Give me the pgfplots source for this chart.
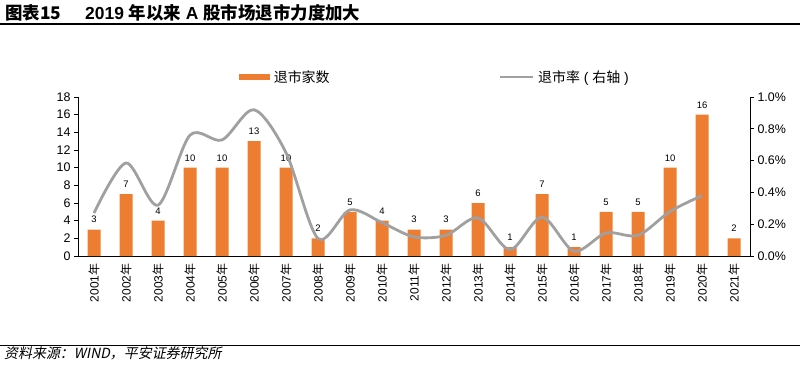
\documentclass[border=0pt]{standalone}
\usepackage{pgfplots}
\pgfplotsset{compat=1.18}
\usepackage{fontspec}
\setmainfont{Liberation Sans}
\newfontfamily\cjk{Noto Sans CJK SC}
\newfontfamily\cjkit{Noto Sans CJK SC}[FakeSlant=0.2]
\definecolor{barC}{HTML}{ED7D31}
\definecolor{lineC}{HTML}{A0A0A0}
\newcommand{\yr}[1]{#1{\cjk 年}}
\begin{document}
\begin{tikzpicture}[x=1bp,y=1bp]
\path[use as bounding box] (0,0) rectangle (800,364);
% title
\node[anchor=base west, inner sep=0] at (5,345) {\fontsize{17.5}{20}\selectfont\cjk\bfseries 图表15};
\node[anchor=base west, inner sep=0] at (85,345) {\fontsize{17.5}{20}\selectfont\bfseries 2019 {\cjk 年以来} A {\cjk 股市场退市力度加大}};
\draw[line width=1.5bp] (0,340) -- (800,340);
\draw[line width=0.8bp] (0,19) -- (800,19);
\node[anchor=base west, inner sep=0] at (4,6) {\fontsize{14}{16}\selectfont\cjkit 资料来源：\itshape WIND\cjkit ，平安证券研究所};
\begin{axis}[
  at={(78bp,108bp)}, anchor=south west,
  width=672bp, height=159bp, scale only axis,
  xmin=-0.5, xmax=20.5, ymin=0, ymax=18,
  axis x line*=bottom, axis y line*=left,
  axis line style={line width=0.8bp, -},
  xtick={0,...,20},
  xticklabels={\yr{2001},\yr{2002},\yr{2003},\yr{2004},\yr{2005},\yr{2006},\yr{2007},\yr{2008},\yr{2009},\yr{2010},\yr{2011},\yr{2012},\yr{2013},\yr{2014},\yr{2015},\yr{2016},\yr{2017},\yr{2018},\yr{2019},\yr{2020},\yr{2021}},
  x tick label style={rotate=90, anchor=east, font=\fontsize{12}{13}\selectfont},
  x tick style={draw=none},
  minor xtick={-0.5,0.5,...,20.5},
  minor tick length=5bp,
  tick align=outside,
  major tick length=4bp,
  ytick={0,2,...,18},
  y tick label style={font=\fontsize{12.5}{14}\selectfont},
  tick style={black, line width=0.8bp},
  /pgf/number format/assume math mode=true,
  legend style={at={(0.531,1.125)}, anchor=center, draw=none, fill=none,
    font=\fontsize{14}{16}\selectfont, legend columns=2,
    /tikz/every odd column/.append style={column sep=2bp},
    /tikz/every even column/.append style={column sep=168bp}},
]
\addplot[ybar, bar width=13bp, fill=barC, draw=none,
  nodes near coords, every node near coord/.append style={font=\fontsize{9.5}{11}\selectfont, black, yshift=3bp},
  legend image code/.code={\fill[barC] (-3bp,-3bp) rectangle (28bp,3bp);}]
coordinates {(0,3) (1,7) (2,4) (3,10) (4,10) (5,13) (6,10) (7,2) (8,5) (9,4) (10,3) (11,3) (12,6) (13,1) (14,7) (15,1) (16,5) (17,5) (18,10) (19,16) (20,2)};
\addlegendentry{\cjk 退市家数}
\addlegendimage{legend image code/.code={\draw[lineC, line width=1.6bp] (-3bp,0bp) -- (30bp,0bp);}}
\addlegendentry{{\cjk 退市率}\ (\ {\cjk 右轴}\ )}
\end{axis}
\begin{axis}[
  at={(78bp,108bp)}, anchor=south west,
  width=672bp, height=159bp, scale only axis,
  xmin=-0.5, xmax=20.5, ymin=0, ymax=1,
  axis x line=none, axis y line*=right,
  axis line style={line width=0.8bp, -},
  ytick={0,0.2,...,1.0},
  yticklabel={\pgfmathprintnumber[fixed,precision=1,fixed zerofill]{\tick}\%},
  y tick label style={font=\fontsize{12.5}{14}\selectfont},
  tick align=outside, major tick length=4bp,
  tick style={black, line width=0.8bp},
  /pgf/number format/assume math mode=true,
]
\addplot[lineC, line width=2.8bp, smooth, no marks]
coordinates {(0,0.27) (1,0.585) (2,0.32) (3,0.76) (4,0.73) (5,0.92) (6,0.65) (7,0.11) (8,0.29) (9,0.21) (10,0.12) (11,0.13) (12,0.24) (13,0.04) (14,0.245) (15,0.03) (16,0.145) (17,0.13) (18,0.28) (19,0.38)};
\end{axis}
\end{tikzpicture}
\end{document}
